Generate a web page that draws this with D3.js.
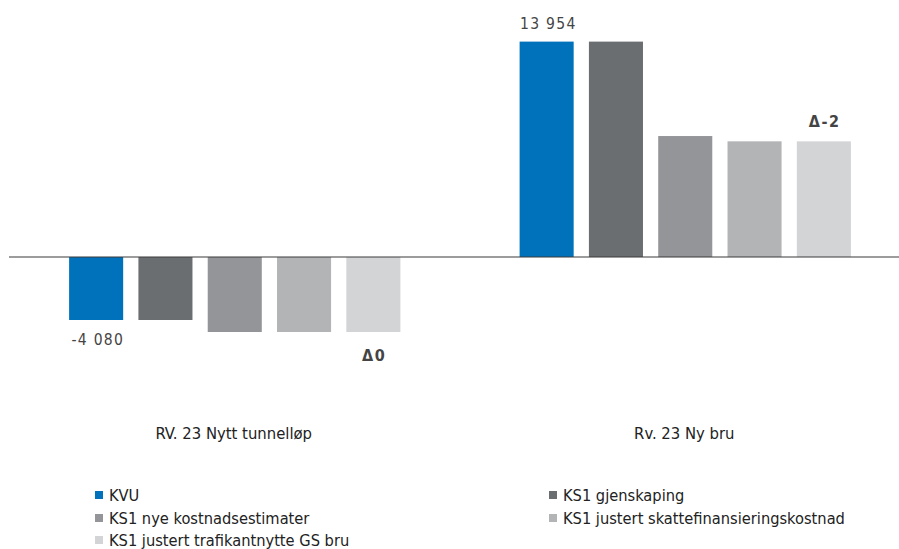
<!DOCTYPE html>
<html>
<head>
<meta charset="utf-8">
<script src="https://cdn.jsdelivr.net/npm/d3@7"></script>
<style>
  body { margin: 0; background: #fff; }
  svg { display: block; font-family: "DejaVu Sans Condensed", "DejaVu Sans", sans-serif; }
</style>
</head>
<body>
<svg id="chart" width="899" height="549"></svg>
<script>
// data
const groups = ['RV. 23 Nytt tunnelløp', 'Rv. 23 Ny bru'];
const series = ['KVU', 'KS1 gjenskaping', 'KS1 nye kostnadsestimater',
  'KS1 justert skattefinansieringskostnad', 'KS1 justert trafikantnytte GS bru'];
const tunnelValues = [-4080, -4080, -4858, -4858, -4858];
const bruValues = [13954, 13954, 7837, 7494, 7492];
const colors = ['#0072bc', '#6b6e70', '#949598', '#b3b4b6', '#d3d4d6'];
// value labels: [group index, series index, text, bold]
const valueLabels = [
  [0, 0, '-4 080', false],
  [0, 4, 'Δ0', true],
  [1, 0, '13 954', false],
  [1, 4, 'Δ-2', true]
];

const values = [tunnelValues, bruValues];
const svg = d3.select('#chart');

const y = d3.scaleLinear().domain([-5000, 14000]).range([334.2, 40.9]);
const x0 = d3.scaleBand().domain(groups).range([9.5, 910.5]);
const x1 = d3.scaleBand().domain(series).range([0, x0.bandwidth()])
  .paddingInner(0.22).paddingOuter(0.86);

// bars
groups.forEach((g, gi) => {
  const grp = svg.append('g').attr('transform', `translate(${x0(g)},0)`);
  grp.selectAll('rect')
    .data(series)
    .enter()
    .append('rect')
    .attr('x', d => x1(d))
    .attr('width', x1.bandwidth())
    .attr('y', (d, i) => y(Math.max(0, values[gi][i])))
    .attr('height', (d, i) => Math.abs(y(values[gi][i]) - y(0)))
    .attr('fill', (d, i) => colors[i]);
});

// zero line
svg.append('line')
  .attr('x1', 9).attr('x2', 899)
  .attr('y1', y(0)).attr('y2', y(0))
  .attr('stroke', '#3a3a3a').attr('stroke-width', 1.2);

// value labels
valueLabels.forEach(([gi, si, txt, bold]) => {
  const v = values[gi][si];
  const cx = x0(groups[gi]) + x1(series[si]) + x1.bandwidth() / 2;
  const yy = v < 0 ? y(v) + (bold ? 29 : 25) : y(v) - (bold ? 14 : 13);
  const ls = bold ? 1.5 : 1.3;
  svg.append('text')
    .attr('x', cx + ls / 2 + (bold ? 0 : 1))
    .attr('y', yy)
    .attr('text-anchor', 'middle')
    .style('font-size', bold ? '16px' : '15.5px')
    .style('letter-spacing', ls + 'px')
    .style('font-weight', bold ? 'bold' : 'normal')
    .style('fill', '#444')
    .text(txt);
});

// category labels
svg.selectAll('.cat')
  .data(groups)
  .enter()
  .append('text')
  .attr('x', d => x0(d) + x0.bandwidth() / 2 - 1)
  .attr('y', 439)
  .attr('text-anchor', 'middle')
  .style('font-size', '16.5px')
  .style('fill', '#222')
  .text(d => d);

// legend
const legendPos = [[95, 495], [549, 495], [95, 518], [549, 518], [95, 540]];
series.forEach((s, i) => {
  const [lx, ly] = legendPos[i];
  svg.append('rect')
    .attr('x', lx).attr('y', ly - 4)
    .attr('width', 8).attr('height', 8)
    .attr('fill', colors[i]);
  svg.append('text')
    .attr('x', lx + 14).attr('y', ly + 6)
    .style('font-size', '16.3px')
    .style('fill', '#222')
    .text(s);
});
</script>
</body>
</html>
